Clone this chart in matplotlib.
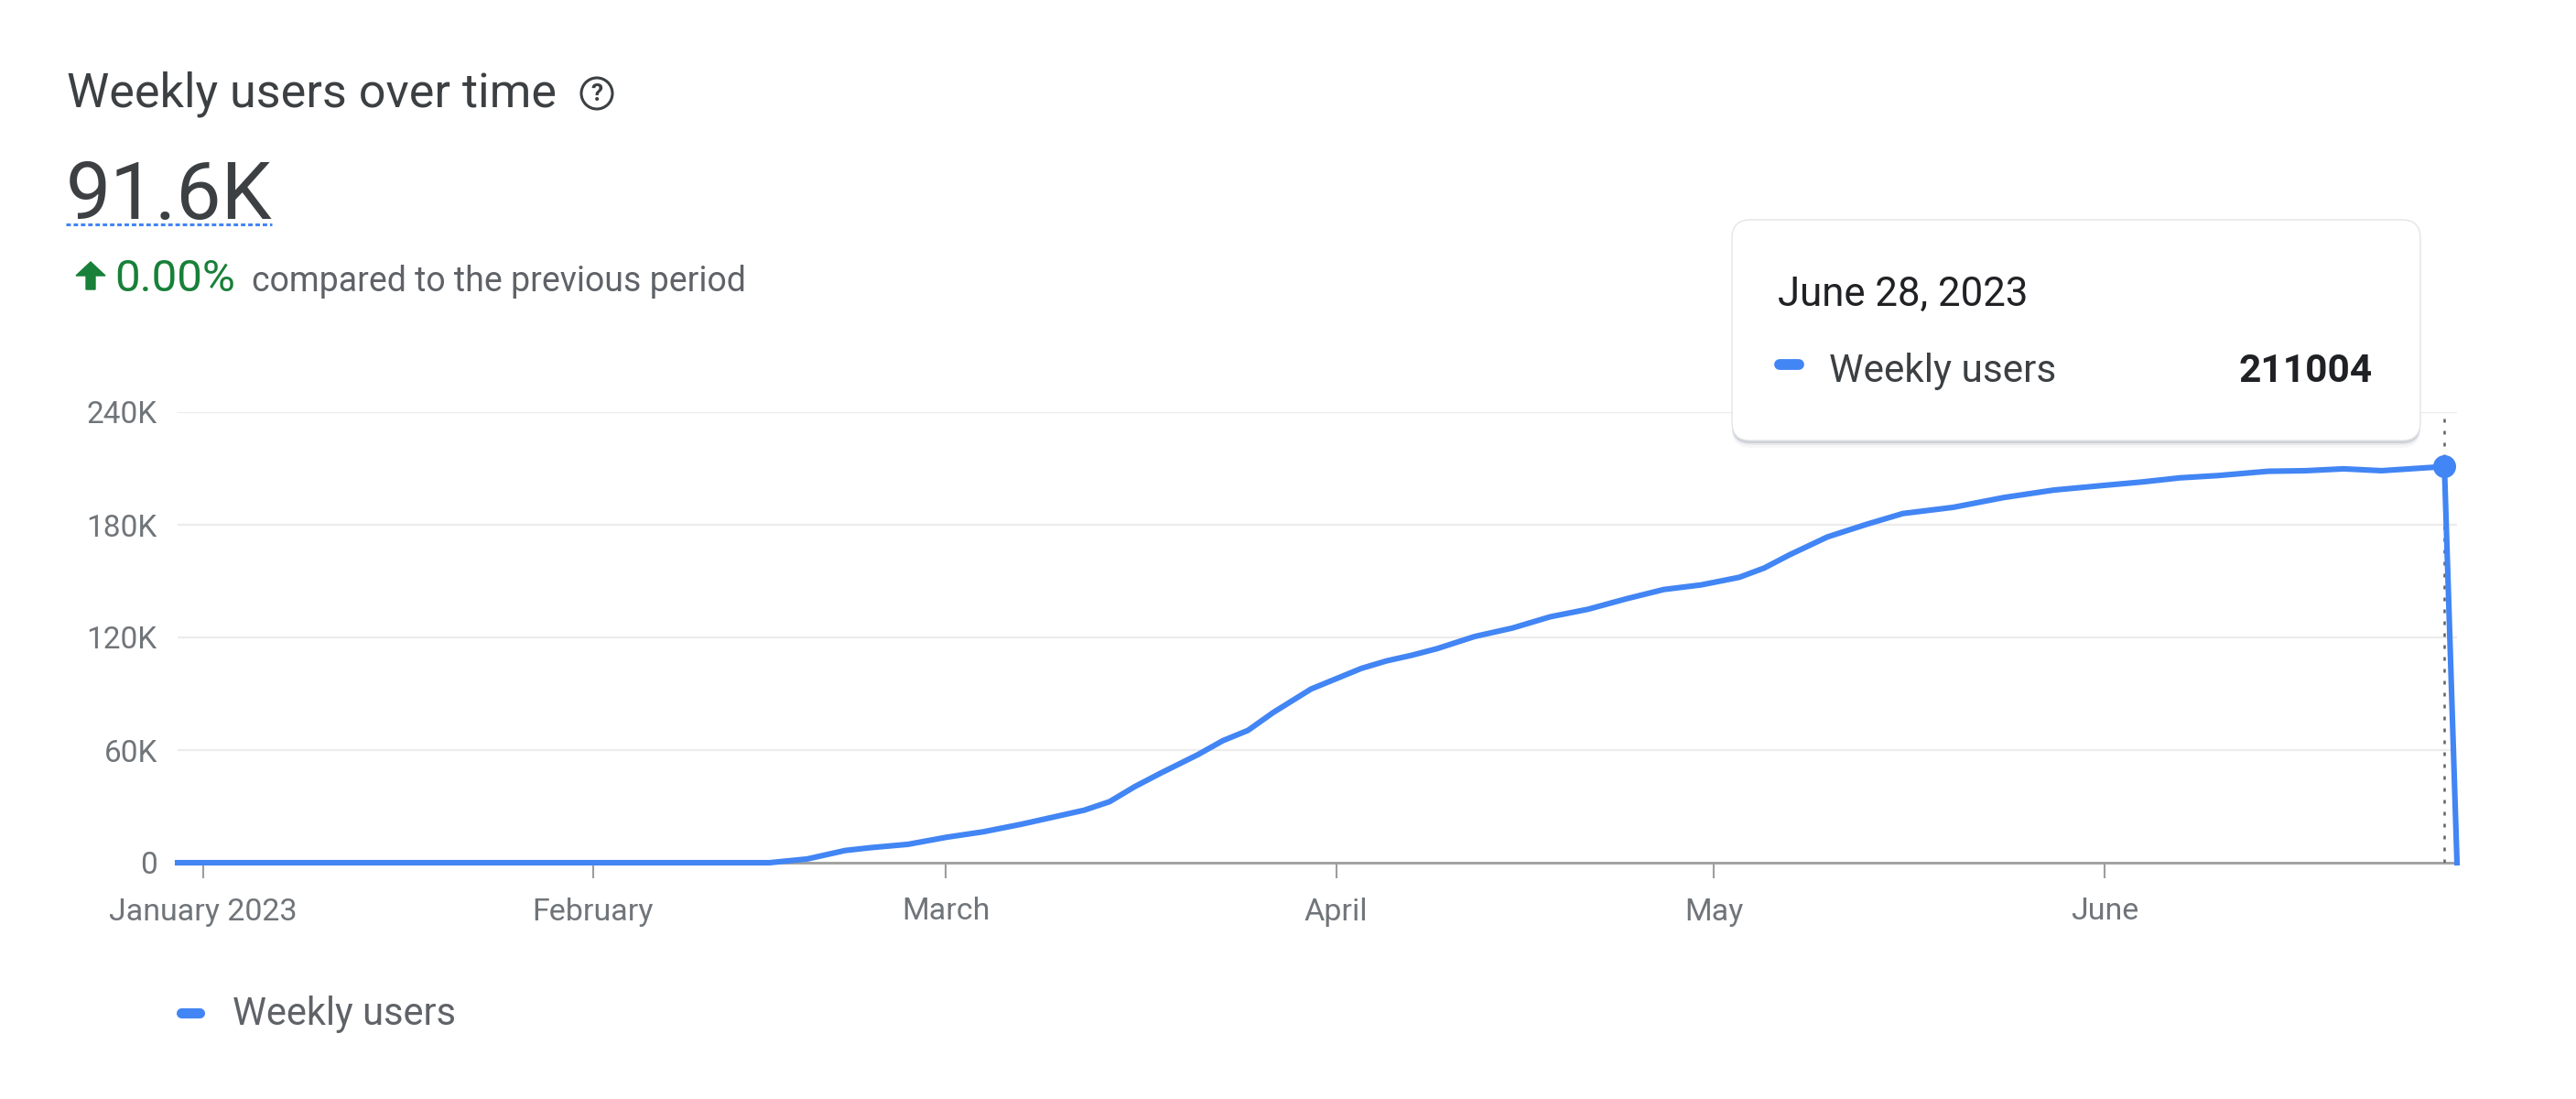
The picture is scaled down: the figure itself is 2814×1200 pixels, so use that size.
import matplotlib
matplotlib.use("Agg")
import matplotlib.pyplot as plt
from matplotlib.patches import FancyBboxPatch, Circle, Polygon
import pandas as pd

plt.rcParams['font.family'] = ['Roboto', 'DejaVu Sans']

# data (weekly users, 2023)
dates = ["2022-12-30", "2023-02-15", "2023-02-18", "2023-02-21", "2023-02-23",
         "2023-02-26", "2023-03-01", "2023-03-04", "2023-03-07", "2023-03-10",
         "2023-03-12", "2023-03-14", "2023-03-16", "2023-03-18", "2023-03-21",
         "2023-03-23", "2023-03-25", "2023-03-27", "2023-03-30", "2023-04-01",
         "2023-04-03", "2023-04-05", "2023-04-07", "2023-04-09", "2023-04-12",
         "2023-04-15", "2023-04-18", "2023-04-21", "2023-04-24", "2023-04-27",
         "2023-04-30", "2023-05-03", "2023-05-05", "2023-05-07", "2023-05-10",
         "2023-05-13", "2023-05-16", "2023-05-20", "2023-05-24", "2023-05-28",
         "2023-06-01", "2023-06-04", "2023-06-07", "2023-06-10", "2023-06-14",
         "2023-06-17", "2023-06-20", "2023-06-23", "2023-06-28", "2023-06-29"]
weekly_users = [0, 0, 2000, 6500, 8000,
                9800, 13500, 16500, 20500, 25000,
                28000, 32500, 40500, 47500, 57500,
                65000, 70500, 80000, 92500, 98000,
                103500, 107500, 110500, 114000, 120500,
                125000, 131000, 135000, 140500, 145500,
                148000, 152000, 157000, 164000, 173500,
                180000, 186000, 189300, 194500, 198500,
                201000, 202800, 205000, 206200, 208500,
                208800, 209800, 208800, 211004, 0]

y_ticks = [0, 60000, 120000, 180000, 240000]
y_tick_labels = ["0", "60K", "120K", "180K", "240K"]
x_ticks = ["2023-01-01", "2023-02-01", "2023-03-01", "2023-04-01", "2023-05-01", "2023-06-01"]
x_tick_labels = ["January 2023", "February", "March", "April", "May", "June"]

hover_date = "2023-06-28"
hover_value = 211004

blue = '#4285f4'
W, H = 2814, 1200

fig = plt.figure(figsize=(W / 100, H / 100), dpi=100)
fig.patch.set_facecolor('white')

ax = fig.add_axes([194 / W, 1 - 942 / H, 2490 / W, 492 / H])
x = pd.to_datetime(dates)
ax.plot(x, weekly_users, color=blue, lw=4.4, zorder=4, clip_on=False,
        solid_joinstyle='round')

hx = pd.to_datetime(hover_date)
ax.axvline(hx, color='#5f6368', lw=1.8, linestyle=(0, (1.6, 3.6)), zorder=3)
ax.plot([hx], [hover_value], 'o', ms=17, color=blue, zorder=5, clip_on=False)

ax.set_xlim(x[0], x[-1])
ax.set_ylim(0, 240000)
ax.set_yticks(y_ticks)
ax.set_yticklabels(y_tick_labels)
ax.set_xticks(pd.to_datetime(x_ticks))
ax.set_xticklabels(x_tick_labels)

for s in ['top', 'right', 'left']:
    ax.spines[s].set_visible(False)
ax.spines['bottom'].set_color('#9e9e9e')
ax.spines['bottom'].set_linewidth(2)
ax.yaxis.grid(True, color='#ececec', lw=1.6)
ax.set_axisbelow(True)
ax.tick_params(axis='y', length=0, pad=16, labelsize=24, labelcolor='#70757a')
ax.tick_params(axis='x', length=12, width=1.5, color='#9e9e9e', pad=15,
               labelsize=24.5, labelcolor='#70757a')

# overlay in pixel coordinates for header, tooltip and legend
ov = fig.add_axes([0, 0, 1, 1], zorder=10)
ov.set_xlim(0, W)
ov.set_ylim(H, 0)
ov.axis('off')
ov.patch.set_alpha(0)

dark = '#3c4043'
ov.text(73, 117, "Weekly users over time", fontsize=37.5, color=dark, va='baseline')
ov.add_patch(Circle((652, 102), 17, fill=False, ec=dark, lw=2.2))
ov.text(652, 103, "?", fontsize=19, color=dark, ha='center', va='center', fontweight='bold')

ov.text(72, 239, "91.6K", fontsize=63, color=dark, va='baseline')
ov.plot([72, 297], [245, 245], color=blue, lw=2.2, linestyle=(0, (1.6, 1.0)))

green = '#188038'
ov.add_patch(Polygon([(99, 286), (115, 301), (104, 301), (104, 316),
                      (94, 316), (94, 301), (83, 301)], closed=True, color=green))
ov.text(125, 318, "0.00%", fontsize=35.5, color=green, va='baseline')
ov.text(275, 318, "compared to the previous period", fontsize=27, color='#5f6368', va='baseline')

# tooltip
bx, by, bw, bh = 1892, 240, 752, 241
for off, a in [(8, 0.08), (5, 0.15), (3, 0.35)]:
    ov.add_patch(FancyBboxPatch((bx, by + off), bw, bh,
                                boxstyle="round,pad=0,rounding_size=20",
                                fc='#9aa3b0', ec='none', alpha=a))
ov.add_patch(FancyBboxPatch((bx, by), bw, bh,
                            boxstyle="round,pad=0,rounding_size=20",
                            fc='white', ec='#e3e5e8', lw=1))
ov.text(1942, 334, "June 28, 2023", fontsize=31.5, color='#202124', va='baseline')
ov.plot([1944, 1965], [398, 398], color=blue, lw=8.5, solid_capstyle='round')
ov.text(1998, 417, "Weekly users", fontsize=30.5, color=dark, va='baseline')
ov.text(2592, 417, f"{hover_value}", fontsize=30.5, color='#202124', va='baseline',
        ha='right', fontweight='bold')

# legend below the chart
ov.plot([198, 218], [1106, 1106], color=blue, lw=8, solid_capstyle='round')
ov.text(254, 1119, "Weekly users", fontsize=30, color='#5f6368', va='baseline')

fig.savefig("out.png", dpi=100, facecolor='white')
